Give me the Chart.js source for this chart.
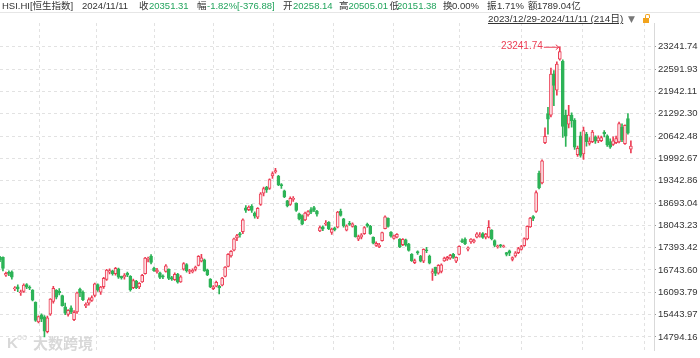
<!DOCTYPE html>
<html><head><meta charset="utf-8">
<script src="https://cdn.jsdelivr.net/npm/chart.js@4.4.1/dist/chart.umd.min.js"></script>
<style>
html,body{margin:0;padding:0;background:#fff;}
#wrap{position:relative;width:700px;height:358px;overflow:hidden;font-family:"Liberation Sans",Arial,"Noto Sans CJK SC",sans-serif;}
#c{position:absolute;left:0;top:0;}
.t{position:absolute;top:0;font-size:9.5px;line-height:12px;white-space:nowrap;color:#333;}
.g{color:#22a45d;}
#sep{position:absolute;left:0;top:12px;width:700px;height:1px;background:#e6e6e6;}
#range{position:absolute;left:488px;top:12px;font-size:9.8px;line-height:13px;color:#333;text-decoration:underline;white-space:nowrap;}
#tri{position:absolute;left:628px;top:13px;font-size:9px;line-height:12px;color:#777;font-family:"DejaVu Sans",sans-serif;}
#lockb{position:absolute;left:643px;top:18px;width:6px;height:5px;background:#f2a31c;}
#locks{position:absolute;left:645px;top:14px;width:3px;height:3px;border:1px solid #f2a31c;border-bottom:none;border-radius:2px 2px 0 0;}
#wm{position:absolute;left:33px;top:334px;font-size:15px;line-height:18px;color:#d8d8d8;font-family:"Noto Sans CJK SC",sans-serif;font-weight:bold;}
#wl{position:absolute;left:7px;top:334px;font-size:15px;line-height:18px;color:#d8d8d8;font-weight:bold;}
#wl2{position:absolute;left:17px;top:332px;font-size:9px;line-height:10px;color:#d8d8d8;}
</style></head>
<body>
<div id="wrap">
<canvas id="c" width="700" height="358"></canvas>
<span class="t" style="left:2px">HSI.HI[恒生指数]</span>
<span class="t" style="left:82px">2024/11/11</span>
<span class="t" style="left:139px">收</span><span class="t g" style="left:149px">20351.31</span>
<span class="t" style="left:197px">幅</span><span class="t g" style="left:207px">-1.82%[-376.88]</span>
<span class="t" style="left:283px">开</span><span class="t g" style="left:293px">20258.14</span>
<span class="t" style="left:339px">高</span><span class="t g" style="left:348.5px">20505.01</span>
<span class="t" style="left:389.5px">低</span><span class="t g" style="left:397px">20151.38</span>
<span class="t" style="left:443px">换</span><span class="t" style="left:452px">0.00%</span>
<span class="t" style="left:487px">振</span><span class="t" style="left:497px">1.71%</span>
<span class="t" style="left:528px">额</span><span class="t" style="left:537px">1789.04亿</span>
<div id="sep"></div>
<span id="range">2023/12/29-2024/11/11 (214日)</span>
<span id="tri">▼</span>
<div id="locks"></div><div id="lockb"></div>
<span id="wl">K</span><span id="wl2">oo</span>
<span id="wm">大数跨境</span>
</div>
<script>
const dates = ["2023/12/29",
"2024/01/02","2024/01/03","2024/01/04","2024/01/05","2024/01/08","2024/01/09","2024/01/10","2024/01/11","2024/01/12","2024/01/15","2024/01/16","2024/01/17","2024/01/18","2024/01/19","2024/01/22","2024/01/23","2024/01/24","2024/01/25","2024/01/26","2024/01/29","2024/01/30","2024/01/31",
"2024/02/01","2024/02/02","2024/02/05","2024/02/06","2024/02/07","2024/02/08","2024/02/09","2024/02/14","2024/02/15","2024/02/16","2024/02/19","2024/02/20","2024/02/21","2024/02/22","2024/02/23","2024/02/26","2024/02/27","2024/02/28","2024/02/29",
"2024/03/01","2024/03/04","2024/03/05","2024/03/06","2024/03/07","2024/03/08","2024/03/11","2024/03/12","2024/03/13","2024/03/14","2024/03/15","2024/03/18","2024/03/19","2024/03/20","2024/03/21","2024/03/22","2024/03/25","2024/03/26","2024/03/27","2024/03/28",
"2024/04/02","2024/04/03","2024/04/05","2024/04/08","2024/04/09","2024/04/10","2024/04/11","2024/04/12","2024/04/15","2024/04/16","2024/04/17","2024/04/18","2024/04/19","2024/04/22","2024/04/23","2024/04/24","2024/04/25","2024/04/26","2024/04/29","2024/04/30",
"2024/05/02","2024/05/03","2024/05/06","2024/05/07","2024/05/08","2024/05/09","2024/05/10","2024/05/13","2024/05/14","2024/05/16","2024/05/17","2024/05/20","2024/05/21","2024/05/22","2024/05/23","2024/05/24","2024/05/27","2024/05/28","2024/05/29","2024/05/30","2024/05/31",
"2024/06/03","2024/06/04","2024/06/05","2024/06/06","2024/06/07","2024/06/11","2024/06/12","2024/06/13","2024/06/14","2024/06/17","2024/06/18","2024/06/19","2024/06/20","2024/06/21","2024/06/24","2024/06/25","2024/06/26","2024/06/27","2024/06/28",
"2024/07/02","2024/07/03","2024/07/04","2024/07/05","2024/07/08","2024/07/09","2024/07/10","2024/07/11","2024/07/12","2024/07/15","2024/07/16","2024/07/17","2024/07/18","2024/07/19","2024/07/22","2024/07/23","2024/07/24","2024/07/25","2024/07/26","2024/07/29","2024/07/30","2024/07/31",
"2024/08/01","2024/08/02","2024/08/05","2024/08/06","2024/08/07","2024/08/08","2024/08/09","2024/08/12","2024/08/13","2024/08/14","2024/08/15","2024/08/16","2024/08/19","2024/08/20","2024/08/21","2024/08/22","2024/08/23","2024/08/26","2024/08/27","2024/08/28","2024/08/29","2024/08/30",
"2024/09/02","2024/09/03","2024/09/04","2024/09/05","2024/09/06","2024/09/09","2024/09/10","2024/09/11","2024/09/12","2024/09/13","2024/09/16","2024/09/17","2024/09/19","2024/09/20","2024/09/23","2024/09/24","2024/09/25","2024/09/26","2024/09/27","2024/09/30",
"2024/10/02","2024/10/03","2024/10/04","2024/10/07","2024/10/08","2024/10/09","2024/10/10","2024/10/14","2024/10/15","2024/10/16","2024/10/17","2024/10/18","2024/10/21","2024/10/22","2024/10/23","2024/10/24","2024/10/25","2024/10/28","2024/10/29","2024/10/30","2024/10/31",
"2024/11/01","2024/11/04","2024/11/05","2024/11/06","2024/11/07","2024/11/08","2024/11/11"];

const open = [17121,17110,16590,16650,16690,16190,16250,16080,16120,16320,16240,16160,15800,15230,15440,15380,14950,15460,15830,16150,16120,16000,15670,
15450,15640,15300,15520,16190,16090,15700,15780,15860,16000,16320,16100,16260,16470,16680,16720,16640,16780,16560,
16540,16650,16560,16230,16420,16250,16400,16640,17050,17150,16800,16690,16660,16570,16700,16760,16520,16460,16620,16400,
16770,16900,16700,16690,16760,16880,17000,17040,16750,16480,16200,16270,16270,16300,16560,16850,17150,17320,17680,17800,
17860,18550,18500,18600,18400,18280,18650,18980,19150,19120,19480,19600,19480,19230,19050,18760,18650,18800,18690,18380,18330,
18200,18350,18500,18560,18450,17880,18000,18080,18130,17840,17960,17990,18450,18230,17900,18100,18010,18020,17640,
17700,17800,18070,18020,17700,17460,17420,17600,17950,18250,17850,17660,17700,17640,17480,17620,17500,17200,16960,17280,17150,17000,
17330,17150,16650,16820,16650,16700,17010,17060,17090,17200,17000,17200,17600,17640,17350,17560,17560,17700,17720,17800,17700,17700,
17900,17600,17420,17450,17420,17250,17300,17050,17150,17250,17340,17450,17650,18000,18300,18450,19560,19280,20450,21300,
21250,22450,21980,22880,22820,21250,20990,21250,21100,20100,20650,20120,20700,20430,20480,20620,20500,20510,20750,20650,20480,
20400,20450,20470,20900,20420,21150,20258.14];

const high = [17141,17130,16680,16720,16720,16260,16310,16160,16340,16345,16280,16170,15820,15410,15470,15420,15400,15910,16270,16170,16200,16010,15780,
15590,15700,15560,16100,16220,16140,15790,15930,15990,16360,16340,16270,16530,16760,16780,16740,16820,16800,16570,
16640,16680,16580,16480,16440,16380,16620,17110,17120,17190,16830,16790,16680,16600,16900,16780,16560,16660,16650,16580,
16960,16930,16760,16780,16860,17160,17200,17060,16770,16490,16290,16420,16300,16530,16840,17220,17310,17670,17780,17840,
18230,18620,18610,18650,18440,18560,19000,19160,19180,19400,19600,19706,19500,19260,19070,18770,18870,18880,18700,18400,18350,
18430,18470,18560,18600,18480,18020,18030,18180,18150,17960,17990,18450,18520,18250,18060,18160,18120,18040,17760,
17800,18010,18110,18040,17710,17560,17520,17850,18320,18260,17860,17760,17800,17660,17660,17640,17520,17220,17060,17300,17170,17360,
17400,17180,16780,16830,16900,16920,17120,17140,17200,17230,17130,17450,17650,17680,17420,17660,17640,17830,17830,17830,17810,18185,
17920,17620,17470,17490,17470,17260,17320,17130,17280,17400,17460,17680,18030,18280,18330,19050,19620,19950,20880,21480,
22620,22550,22800,23241.74,22860,21400,21540,21320,21150,20350,20760,20900,20750,20600,20810,20650,20650,20640,20800,20680,20560,
20620,20640,21050,21000,20970,21300,20505.01];

const low = [16989,16713,16560,16580,16480,16140,16110,16000,16090,16200,16170,15840,15250,15200,15240,14794.16,14910,15420,15780,15900,16020,15690,15440,
15400,15470,15270,15480,15970,15850,15650,15720,15830,15960,16120,16030,16210,16440,16630,16590,16590,16500,16480,
16480,16550,16130,16200,16200,16200,16380,16620,16980,16920,16700,16650,16490,16490,16680,16460,16440,16440,16360,16380,
16740,16680,16640,16660,16720,16860,16980,16700,16580,16230,16170,16250,16044,16280,16540,16830,17120,17300,17600,17700,
17800,18420,18470,18420,18250,18240,18620,18900,19000,19090,19410,19560,19200,19120,18850,18580,18620,18740,18450,18200,18060,
18180,18310,18380,18440,18310,17860,17890,18040,17920,17780,17880,17970,18310,17990,17880,18040,17990,17700,17600,
17650,17780,17990,17780,17500,17430,17390,17580,17940,17990,17700,17640,17680,17390,17450,17440,17290,16990,16930,17200,16980,16960,
17250,16920,16441,16580,16620,16660,16990,17020,17050,17080,16960,17180,17540,17480,17300,17520,17530,17680,17700,17660,17650,17680,
17620,17420,17380,17400,17400,17150,17160,17010,17120,17220,17320,17430,17620,17980,18180,18420,19100,19250,20420,20700,
21200,21530,21830,22850,20600,20340,20880,20900,20250,20050,20030,19960,20350,20380,20450,20430,20450,20480,20620,20340,20280,
20370,20420,20440,20480,20400,20700,20151.38];

const close = [17047,16789,16646,16645,16535,16224,16190,16097,16302,16244,16217,15866,15277,15391,15309,14961,15353,15899,16211,15952,16077,15703,15485,
15566,15533,15510,16081,16082,15878,15746,15879,15944,16339,16155,16247,16503,16742,16726,16634,16790,16536,16511,
16589,16595,16162,16438,16230,16353,16587,17093,17082,16961,16721,16737,16529,16543,16863,16499,16473,16618,16392,16541,
16931,16725,16723,16732,16828,17139,17095,16721,16600,16249,16251,16385,16224,16511,16828,17201,17284,17651,17746,17763,
18207,18475,18578,18479,18313,18537,18963,19115,19073,19376,19553,19636,19220,19195,18868,18608,18827,18821,18477,18230,18079,
18403,18444,18425,18476,18366,17977,17937,18112,17942,17936,17915,18430,18335,18028,18027,18072,18089,17716,17718,
17769,17978,18028,17799,17524,17523,17471,17832,18293,18015,17727,17739,17778,17417,17635,17469,17311,17005,17021,17238,17002,17344,
17304,16945,16698,16647,16877,16891,17090,17111,17174,17113,17109,17430,17569,17511,17391,17641,17612,17798,17754,17692,17786,17989,
17651,17457,17440,17444,17430,17196,17234,17108,17240,17369,17422,17660,18013,18258,18247,19000,19129,19924,20632,21133,
22443,22113,22736,23099,20926,20637,21252,21093,20318,20286,20079,20804,20478,20499,20760,20490,20590,20599,20701,20381,20317,
20506,20568,21007,20538,20953,20728,20351.31];

const yTicks = [14794.16,15443.97,16093.79,16743.60,17393.42,18043.23,18693.04,19342.86,19992.67,20642.48,21292.30,21942.11,22591.93,23241.74];

const UP = '#ec3d54', UP_FILL = '#fde6e9', DOWN = '#2db357';
const idx = dates.map((d, i) => i);
const isUp = i => close[i] >= open[i];
const monthStarts = idx.filter(i => i > 10 && dates[i].slice(0, 7) !== dates[i - 1].slice(0, 7));

const peakPlugin = {
  id: 'peak',
  afterDatasetsDraw(chart) {
    const {ctx, scales: {x, y}} = chart;
    let m = 0;
    high.forEach((v, i) => { if (v > high[m]) m = i; });
    const px = x.getPixelForValue(m), py = y.getPixelForValue(high[m]);
    ctx.save();
    ctx.strokeStyle = UP; ctx.fillStyle = UP; ctx.lineWidth = 1;
    ctx.font = "10px 'Liberation Sans', Arial, sans-serif";
    ctx.textAlign = 'right'; ctx.textBaseline = 'middle';
    ctx.fillText(high[m].toFixed(2), px - 17, py);
    ctx.beginPath();
    ctx.moveTo(px - 16, py + 0.5); ctx.lineTo(px - 1, py + 0.5);
    ctx.moveTo(px - 4, py - 2); ctx.lineTo(px - 1, py + 0.5); ctx.lineTo(px - 4, py + 3);
    ctx.stroke();
    ctx.restore();
  }
};

new Chart(document.getElementById('c'), {
  type: 'bar',
  data: {
    datasets: [
      {
        label: 'wick', order: 2, grouped: false, barThickness: 1, minBarLength: 1,
        data: idx.map(i => ({x: i, y: [low[i], high[i]]})),
        backgroundColor: c => isUp(c.dataIndex) ? UP : DOWN,
        borderWidth: 0
      },
      {
        label: 'body', order: 1, grouped: false, barThickness: 3, minBarLength: 1,
        data: idx.map(i => ({x: i, y: [open[i], close[i]]})),
        backgroundColor: c => isUp(c.dataIndex) ? UP_FILL : DOWN,
        borderColor: c => isUp(c.dataIndex) ? UP : DOWN,
        borderWidth: 1, borderSkipped: false
      }
    ]
  },
  options: {
    responsive: false, animation: false, events: [],
    layout: {padding: {top: 23, left: 0, right: 0, bottom: 0}},
    plugins: {legend: {display: false}, tooltip: {enabled: false}},
    scales: {
      x: {
        type: 'linear', min: 0, max: 220.8, offset: false,
        afterBuildTicks: s => { s.ticks = monthStarts.map(v => ({value: v})); },
        afterFit: s => { s.height = 0; },
        ticks: {display: false},
        grid: {color: '#e2e2e2', lineWidth: 1, drawTicks: false},
        border: {display: false, dash: [3, 3]}
      },
      y: {
        position: 'right', min: 14406, max: 23933,
        afterBuildTicks: s => { s.ticks = yTicks.map(v => ({value: v})); },
        afterFit: s => { s.width = 46; },
        ticks: {
          padding: 2, color: '#333',
          font: {family: "'Liberation Sans', Arial, sans-serif", size: 9.5},
          callback: v => Number(v).toFixed(2)
        },
        grid: {color: '#e2e2e2', lineWidth: 1, tickLength: 2, tickColor: '#999'},
        border: {display: true, color: '#d9d9d9', width: 1, dash: [3, 3]}
      }
    }
  },
  plugins: [peakPlugin]
});
</script>
</body></html>
